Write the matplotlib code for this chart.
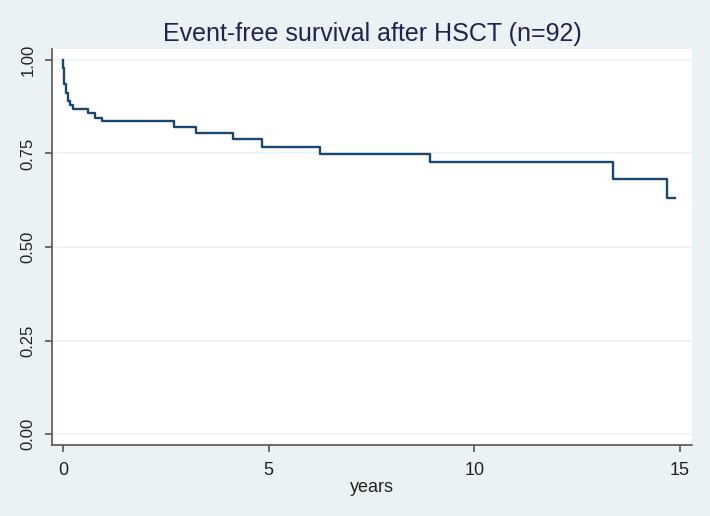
import matplotlib
matplotlib.use("Agg")
import matplotlib.pyplot as plt

# Kaplan-Meier step values
years = [0.0, 0.01, 0.02, 0.035, 0.065, 0.13, 0.17, 0.235, 0.62, 0.78, 0.94,
         2.70, 3.23, 4.14, 4.83, 6.25, 8.92, 13.38, 14.69, 14.88]
survival = [1.0, 0.978, 0.957, 0.935, 0.911, 0.890, 0.880, 0.868, 0.857, 0.846, 0.837,
            0.820, 0.805, 0.789, 0.768, 0.749, 0.726, 0.682, 0.630, 0.630]

x_ticks = [0, 5, 10, 15]
y_ticks = [0.0, 0.25, 0.5, 0.75, 1.0]
y_labels = ["0.00", "0.25", "0.50", "0.75", "1.00"]

bg = "#EAF2F3"
navy = "#1A476F"

plt.rcParams['font.family'] = ['Liberation Sans', 'DejaVu Sans']

fig = plt.figure(figsize=(7.1, 5.16), dpi=100, facecolor=bg)
ax = fig.add_axes([52 / 710, 71 / 516, 640 / 710, 396 / 516])
ax.set_facecolor("white")

ax.step(years, survival, where="post", color=navy, lw=1.7)

ax.set_xlim(-0.267, 15.29)
ax.set_ylim(-0.0294, 1.0294)
ax.set_xticks(x_ticks)
ax.set_yticks(y_ticks)
ax.set_yticklabels(y_labels, rotation=90, va="center", fontsize=12)
ax.grid(axis="y", color=bg, lw=1.2)
ax.set_axisbelow(True)

for s in ["top", "right"]:
    ax.spines[s].set_visible(False)
for s in ["left", "bottom"]:
    ax.spines[s].set_color("#555555")
    ax.spines[s].set_linewidth(1.2)
ax.tick_params(colors="#555555", labelcolor="#222222", labelsize=13, length=5, width=1.2)
ax.tick_params(axis="y", pad=7, labelsize=12)
ax.tick_params(axis="x", pad=7)

ax.set_xlabel("years", fontsize=13, color="#222222", labelpad=0)
fig.text(0.525, 0.935, "Event-free survival after HSCT (n=92)", ha="center", va="center",
         fontsize=18, color="#1E2550")

fig.savefig("out.png", dpi=100, facecolor=bg)
